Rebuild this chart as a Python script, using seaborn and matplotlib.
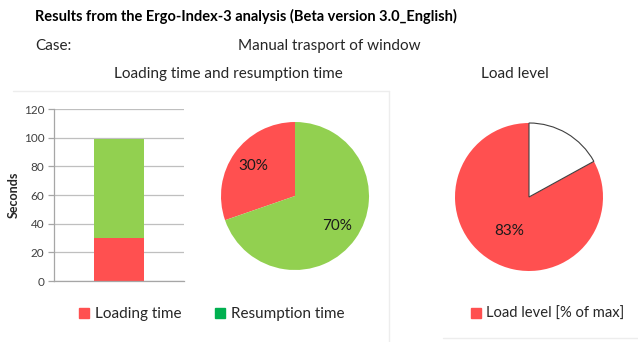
import math
import matplotlib
matplotlib.use("Agg")
import matplotlib.pyplot as plt
from matplotlib.patches import Patch
from matplotlib.lines import Line2D
import seaborn as sns
import pandas as pd

# --- data -----------------------------------------------------------------
category = ["Case"]
loading_time = [30]          # seconds
resumption_time = [69]       # seconds
load_level = 83              # % of max
yticks = [0, 20, 40, 60, 80, 100, 120]

title = "Results from the Ergo-Index-3 analysis (Beta version 3.0_English)"
case_label = "Case:"
case_name = "Manual trasport of window"
time_title = "Loading time and resumption time"
load_title = "Load level"
series_names = ["Loading time", "Resumption time"]
load_legend = "Load level [% of max]"

RED = "#FF5050"
GREEN = "#92D050"
LEGEND_GREEN = "#00B050"
FONT = "Lato"
FS = 11

sns.set_theme(style="white")
plt.rcParams["font.family"] = [FONT, "DejaVu Sans"]

W, H = 638, 342
fig = plt.figure(figsize=(W / 100, H / 100), dpi=100)


def px_axes(x0, y0, x1, y1):
    """Axes from pixel box (top-left origin)."""
    return fig.add_axes([x0 / W, 1 - y1 / H, (x1 - x0) / W, (y1 - y0) / H])


# faint chart-area borders
border = "#EDEDED"
fig.add_artist(Line2D([13 / W, 389 / W], [1 - 91 / H] * 2, color=border, lw=1))
fig.add_artist(Line2D([389 / W] * 2, [1 - 91 / H, 0], color=border, lw=1))
fig.add_artist(Line2D([443 / W, 1], [1 - 338 / H] * 2, color=border, lw=1))

# --- header texts ---------------------------------------------------------
fig.text(35 / W, 1 - 16 / H, title, fontsize=10.5, fontweight="bold",
         va="center", ha="left", color="black")
fig.text(35 / W, 1 - 46 / H, case_label, fontsize=FS, va="center", ha="left")
fig.text(238 / W, 1 - 46 / H, case_name, fontsize=FS, va="center", ha="left")
fig.text(228 / W, 1 - 74 / H, time_title, fontsize=FS, va="center", ha="center")
fig.text(515 / W, 1 - 74 / H, load_title, fontsize=FS, va="center", ha="center")

# --- stacked bar ----------------------------------------------------------
ax_bar = px_axes(54, 109, 184, 281)
df = pd.DataFrame({
    "case": category,
    "loading": loading_time,
    "total": [l + r for l, r in zip(loading_time, resumption_time)],
})
sns.barplot(data=df, x="case", y="total", color=GREEN, width=0.38,
            saturation=1, ax=ax_bar, linewidth=0)
sns.barplot(data=df, x="case", y="loading", color=RED, width=0.38,
            saturation=1, ax=ax_bar, linewidth=0)
ax_bar.set_xlim(-0.5, 0.5)
ax_bar.set_ylim(0, 120)
ax_bar.set_yticks(yticks)
ax_bar.set_xticks([])
ax_bar.set_xlabel("")
ax_bar.set_ylabel("Seconds", fontsize=9, fontweight="bold", labelpad=3)
ax_bar.yaxis.grid(True, color="#BFBFBF", lw=0.9)
ax_bar.set_axisbelow(True)
for s in ["top", "right"]:
    ax_bar.spines[s].set_visible(False)
for s in ["left", "bottom"]:
    ax_bar.spines[s].set_color("#A6A6A6")
    ax_bar.spines[s].set_linewidth(0.9)
ax_bar.tick_params(axis="y", length=4, width=0.9, color="#A6A6A6",
                   labelsize=8.5, labelcolor="#404040", pad=3, left=True)

# --- pie: loading vs resumption ------------------------------------------
ax_p1 = px_axes(295 - 74, 196 - 74, 295 + 74, 196 + 74)
ax_p1.pie([loading_time[0], resumption_time[0]], colors=[RED, GREEN],
          startangle=90, counterclock=True, autopct="%1.0f%%",
          pctdistance=0.7, textprops={"fontsize": FS, "color": "#1a1a1a"},
          wedgeprops={"linewidth": 0})
ax_p1.set_xlim(-1, 1)
ax_p1.set_ylim(-1, 1)
ax_p1.set_aspect("equal")

# --- pie: load level ------------------------------------------------------
ax_p2 = px_axes(529 - 74, 197 - 74, 529 + 74, 197 + 74)
wedges, texts = ax_p2.pie([load_level, 100 - load_level], colors=[RED, "white"],
                          startangle=90, counterclock=True,
                          wedgeprops={"linewidth": 0})
wedges[1].set_edgecolor("#404040")
wedges[1].set_linewidth(0.8)
ang = math.radians(90 + 360 * load_level / 100 / 2)
ax_p2.text(0.53 * math.cos(ang), 0.53 * math.sin(ang), f"{load_level}%",
           ha="center", va="center", fontsize=FS, color="#1a1a1a")
ax_p2.set_xlim(-1, 1)
ax_p2.set_ylim(-1, 1)
ax_p2.set_aspect("equal")

# --- legends --------------------------------------------------------------
leg_kw = dict(frameon=False, fontsize=FS, handlelength=0.65, handleheight=0.65,
              handletextpad=0.4, borderaxespad=0, borderpad=0)
fig.legend(handles=[Patch(color=RED, label=series_names[0]),
                    Patch(color=LEGEND_GREEN, label=series_names[1])],
           loc="center left", bbox_to_anchor=(79 / W, 1 - 314 / H),
           ncol=2, columnspacing=2.2, **leg_kw)
fig.legend(handles=[Patch(color=RED, label=load_legend)],
           loc="center left", bbox_to_anchor=(471 / W, 1 - 314 / H),
           **{**leg_kw, "fontsize": 10.6})

fig.savefig("out.png", dpi=100)
